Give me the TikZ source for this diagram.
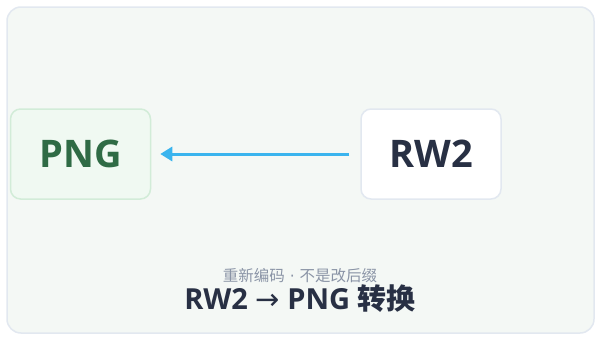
\documentclass[tikz,border=0pt]{standalone}
\usepackage{fontspec}
\setmainfont{Open Sans}
\newfontfamily\cjk{Noto Sans CJK SC}
\newfontfamily\symf{DejaVu Sans}
\usetikzlibrary{arrows.meta}
\definecolor{framefill}{HTML}{F4F8F5}
\definecolor{framedraw}{HTML}{E2E8F0}
\definecolor{pngfill}{HTML}{F0F9F2}
\definecolor{pngdraw}{HTML}{D2ECD8}
\definecolor{pngtext}{HTML}{2F6B45}
\definecolor{darktext}{HTML}{283044}
\definecolor{subtext}{HTML}{8A94A6}
\definecolor{arrowc}{HTML}{3AB4EE}
\tikzset{
  fmtbox/.style={rounded corners=10pt, line width=1.5pt, minimum width=140pt, minimum height=90pt, inner sep=0pt, font=\fontsize{38}{42}\selectfont\bfseries},
  flow/.style={draw=arrowc, line width=3pt, -{Triangle[length=12pt,width=14pt]}}
}
\begin{document}
\begin{tikzpicture}[x=1pt,y=-1pt]
\useasboundingbox (0,0) rectangle (600,340);
\fill[white] (0,0) rectangle (600,340);
\draw[framedraw, fill=framefill, line width=1.5pt, rounded corners=14pt] (7,7) rectangle (594,333);
\node[fmtbox, draw=pngdraw, fill=pngfill, text=pngtext] (png) at (80.5,154) {PNG};
\node[fmtbox, draw=framedraw, fill=white, text=darktext] (rw2) at (431,154) {RW2};
\draw[flow] ([xshift=-11pt]rw2.west) -- ([xshift=9pt]png.east);
\node[text=subtext, font=\fontsize{15.5}{18}\selectfont\cjk, inner sep=0pt] (sub) at (300,276) {重新编码{\symf\ ·\ }不是改后缀};
\node[text=darktext, font=\fontsize{29}{32}\selectfont\bfseries, inner sep=0pt] (title) at (300,299) {RW2 {\symf\mdseries →} PNG {\cjk 转换}};
\end{tikzpicture}
\end{document}
